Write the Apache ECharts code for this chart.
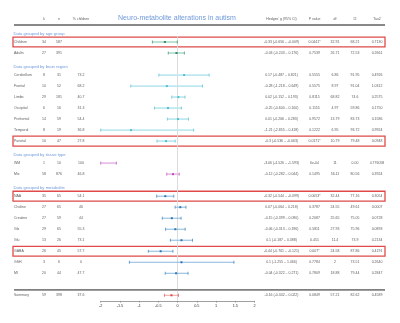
<!DOCTYPE html>
<html><head><meta charset="utf-8">
<script src="https://cdn.jsdelivr.net/npm/echarts@6/dist/echarts.min.js"></script>
<style>html,body{margin:0;padding:0;background:#fff}#c{width:400px;height:323px}</style>
</head><body><div id="c"></div>
<script>
// ---------- data ----------
const chartTitle = 'Neuro-metabolite alterations in autism';
const columnHeaders = ['k', 'n', '% children', "Hedges' g (95% CI)", 'P value', 'df', 'I2', 'Tau2'];
const groupTitles = ['Data grouped by age group', 'Data grouped by brain region', 'Data grouped by tissue type', 'Data grouped by metabolite'];
const rowNames = ['Children', 'Adults', 'Cerebellum', 'Frontal', 'Limbic', 'Occipital', 'Prefrontal', 'Temporal', 'Parietal',
  'WM', 'Mix', 'NAA', 'Choline', 'Creatine', 'Glx', 'Glu', 'GABA', 'GSH', 'MI', 'Summary'];
const rowGroup = [0, 0, 1, 1, 1, 1, 1, 1, 1, 2, 2, 3, 3, 3, 3, 3, 3, 3, 3, 4];
const kVals = [34, 27, 8, 10, 29, 6, 14, 8, 10, 1, 58, 35, 27, 27, 29, 13, 26, 3, 20, 59];
const nVals = [587, 391, 31, 52, 181, 16, 59, 19, 47, 10, 876, 65, 65, 59, 65, 26, 45, 6, 44, 398];
const pctChildren = ['', '', '73.2', '68.2', '40.7', '31.3', '54.4', '36.8', '27.8', '100', '46.8', '54.1', '46', '44', '55.3', '73.1', '57.7', '0', '47.7', '37.6'];
const hedgesG = [-0.33, -0.03, 0.17, -0.28, 0.02, -0.25, 0.01, -1.21, -0.3, -3.06, -0.12, -0.32, 0.07, -0.15, -0.06, 0.1, -0.44, 0.1, -0.04, -0.16];
const ciLow = [-0.656, -0.243, -0.487, -1.218, -0.152, -0.6, -0.266, -2.855, -0.536, -4.526, -0.282, -0.544, -0.064, -0.399, -0.313, -0.187, -0.761, -1.255, -0.322, -0.342];
const ciHigh = [-0.009, 0.176, 0.821, 0.649, 0.193, 0.1, 0.283, 0.418, -0.063, -1.593, 0.044, -0.099, 0.218, 0.09, 0.196, 0.388, -0.121, 1.466, 0.271, 0.022];
const pValues = ['0.0441*', '0.7539', '0.5555', '0.5575', '0.8115', '0.1155', '0.9572', '0.1222', '0.0171*', '6e-04', '0.1495', '0.0053*', '0.3787', '0.2087', '0.5811', '0.451', '0.007*', '0.7784', '0.7809', '0.0849'];
const dfVals = ['32.91', '26.71', '6.86', '8.97', '68.82', '4.97', '13.79', '6.95', '10.79', '11', '56.11', '32.44', '24.55', '25.65', '27.93', '11.4', '24.58', '2', '18.88', '57.21'];
const i2Vals = ['68.21', '72.53', '91.95', '91.04', '74.6', '59.86', '83.73', '93.72', '79.48', '0.00', '80.56', '77.16', '49.61', '75.05', '75.96', '73.9', '87.86', '73.51', '79.44', '82.62'];
const tau2Vals = ['0.7130', '0.2661', '0.4926', '1.0312', '0.2575', '0.1750', '0.1586', '0.9924', '0.0948', '4.776058', '0.3924', '0.3054', '0.0007', '0.0728', '0.0893', '0.2134', '0.4191', '0.2640', '0.2847', '0.4589'];
const xTicks = [-2, -1.5, -1, -0.5, 0, 0.5, 1, 1.5, 2];

// ---------- layout / style ----------
const groupStyle = [
  {line: '#5cb892', mark: '#2e8f66', width: 0.8},
  {line: '#bfe9ef', mark: '#4cc0d0', width: 1.8},
  {line: '#e8bfe8', mark: '#b84cb8', width: 1.8},
  {line: '#6aa6d6', mark: '#2f78b8', width: 0.8},
  {line: '#f08c8c', mark: '#d84848', width: 0.8}
];
const TXT = '#333';
const BLUE = '#4a7fd0';

const rowPos = [];
{
  let cur = 0;
  rowGroup.forEach((g, i) => {
    if (i > 0 && g !== rowGroup[i - 1]) cur += 1;
    rowPos.push(cur); cur += 1;
  });
}
const SLOT = 11.013, Y0 = 42;
const yMinForest = -0.5, yMaxForest = 23.5;
const gridTop = Y0 + yMinForest * SLOT, gridBottomPx = Y0 + yMaxForest * SLOT;

const fmt = v => v.toFixed(3);
const ciText = rowNames.map((_, i) => `${hedgesG[i]} (${fmt(ciLow[i])} – ${fmt(ciHigh[i])})`);

const cols = [
  {x: 14, align: 'left', vals: rowNames},
  {x: 44, align: 'center', vals: kVals},
  {x: 59, align: 'center', vals: nVals},
  {x: 81, align: 'center', vals: pctChildren},
  {x: 281.5, align: 'center', vals: ciText},
  {x: 314.5, align: 'center', vals: pValues},
  {x: 335, align: 'center', vals: dfVals},
  {x: 355, align: 'center', vals: i2Vals},
  {x: 377, align: 'center', vals: tau2Vals}
];

function txt(x, v, text, o) {
  o = o || {};
  return {
    value: [x, v],
    label: {
      show: true, position: [0, 0], formatter: String(text),
      align: o.align || 'center', verticalAlign: 'middle',
      fontSize: o.size || 3.5, color: o.color || TXT,
      fontFamily: 'Liberation Sans, Arial, sans-serif'
    }
  };
}

const textData = [];
cols.forEach(c => c.vals.forEach((t, i) => textData.push(txt(c.x, rowPos[i], t, {align: c.align}))));
const headerV = -2.05;
columnHeaders.forEach((h, j) => textData.push(txt(cols[j + 1].x, headerV, h)));
groupTitles.forEach((t, gi) => {
  const first = rowGroup.indexOf(gi);
  textData.push(txt(13.5, rowPos[first] - 0.72, t, {align: 'left', size: 4.2, color: BLUE}));
});
textData.push(txt(177, headerV - 0.1, chartTitle, {size: 7, color: BLUE}));

const boxes = [];
pValues.forEach((p, i) => {
  if (p.endsWith('*')) boxes.push([{coord: [13, rowPos[i] - 0.45]}, {coord: [385, rowPos[i] + 0.45]}]);
});

const lastRow = rowPos[rowPos.length - 1];
const ruleRows = [[14, -1.54, 385], [14, lastRow - 0.51, 385]];

const forestData = rowNames.map((_, i) => [hedgesG[i], ciLow[i], ciHigh[i], rowPos[i], rowGroup[i]]);

const xmin = xTicks[0], xmax = xTicks[xTicks.length - 1];

function renderItem(params, api) {
  const g = api.value(0), lo = api.value(1), hi = api.value(2), y = api.value(3), gi = api.value(4);
  const st = groupStyle[gi];
  const a = api.coord([Math.max(lo, xmin), y]);
  const b = api.coord([Math.min(hi, xmax), y]);
  const ch = 1.5;
  const kids = [
    {type: 'line', shape: {x1: a[0], y1: a[1], x2: b[0], y2: b[1]}, style: {stroke: st.line, lineWidth: st.width}},
    {type: 'line', shape: {x1: a[0], y1: a[1] - ch, x2: a[0], y2: a[1] + ch}, style: {stroke: st.mark, lineWidth: 0.7}},
    {type: 'line', shape: {x1: b[0], y1: b[1] - ch, x2: b[0], y2: b[1] + ch}, style: {stroke: st.mark, lineWidth: 0.7}}
  ];
  if (g >= xmin && g <= xmax) {
    const p = api.coord([g, y]);
    kids.push({type: 'rect', shape: {x: p[0] - 1, y: p[1] - 1, width: 2, height: 2}, style: {fill: st.mark}});
  }
  return {type: 'group', children: kids};
}

function renderRule(params, api) {
  const a = api.coord([api.value(0), api.value(1)]);
  const b = api.coord([api.value(2), api.value(1)]);
  return {type: 'rect', shape: {x: a[0], y: a[1] - 0.8, width: b[0] - a[0], height: 1.6},
    style: {fill: '#808080'}};
}

const chart = echarts.init(document.getElementById('c'), null, {renderer: 'canvas'});
chart.setOption({
  animation: false,
  backgroundColor: '#fff',
  grid: [
    {left: 100.7, right: 400 - 254.5, top: gridTop, height: gridBottomPx - gridTop},
    {left: 0, right: 0, top: 0, bottom: 0}
  ],
  xAxis: [
    {gridIndex: 0, type: 'value', min: xmin, max: xmax, interval: xTicks[1] - xTicks[0], position: 'bottom',
      axisLine: {show: true, onZero: false, lineStyle: {color: '#888', width: 0.8}},
      axisTick: {show: true, length: 2, lineStyle: {color: '#888', width: 0.6}},
      axisLabel: {fontSize: 3.8, color: TXT, margin: 3, fontFamily: 'Liberation Sans, Arial, sans-serif'},
      splitLine: {show: false}},
    {gridIndex: 1, type: 'value', min: 0, max: 400, show: false}
  ],
  yAxis: [
    {gridIndex: 0, type: 'value', inverse: true, min: yMinForest, max: yMaxForest, show: false},
    {gridIndex: 1, type: 'value', inverse: true, min: -Y0 / SLOT, max: (323 - Y0) / SLOT, show: false}
  ],
  series: [
    {
      type: 'custom', xAxisIndex: 0, yAxisIndex: 0, data: forestData,
      encode: {x: [0, 1, 2], y: 3}, renderItem: renderItem, clip: false, silent: true, z: 5,
      markLine: {silent: true, symbol: 'none', label: {show: false},
        lineStyle: {color: '#dcdcdc', width: 1, type: 'solid'}, data: [{xAxis: 0}]}
    },
    {
      type: 'custom', xAxisIndex: 1, yAxisIndex: 1, data: ruleRows,
      encode: {x: [0, 2], y: 1}, renderItem: renderRule, clip: false, silent: true, z: 4
    },
    {
      type: 'scatter', xAxisIndex: 1, yAxisIndex: 1, symbolSize: 0, silent: true, clip: false,
      data: textData, z: 6,
      markArea: {silent: true, label: {show: false},
        itemStyle: {color: 'rgba(0,0,0,0)', borderColor: '#e04a4a', borderWidth: 1.3}, data: boxes}
    }
  ]
});

chart.setOption({
  graphic: ruleRows.map(r => {
    const a = chart.convertToPixel({xAxisIndex: 1, yAxisIndex: 1}, [r[0], r[1]]);
    const b = chart.convertToPixel({xAxisIndex: 1, yAxisIndex: 1}, [r[2], r[1]]);
    return {type: 'line', silent: true, z: 100,
      shape: {x1: a[0], y1: a[1], x2: b[0], y2: b[1]},
      style: {stroke: '#808080', lineWidth: 1.6}};
  })
});
</script></body></html>
